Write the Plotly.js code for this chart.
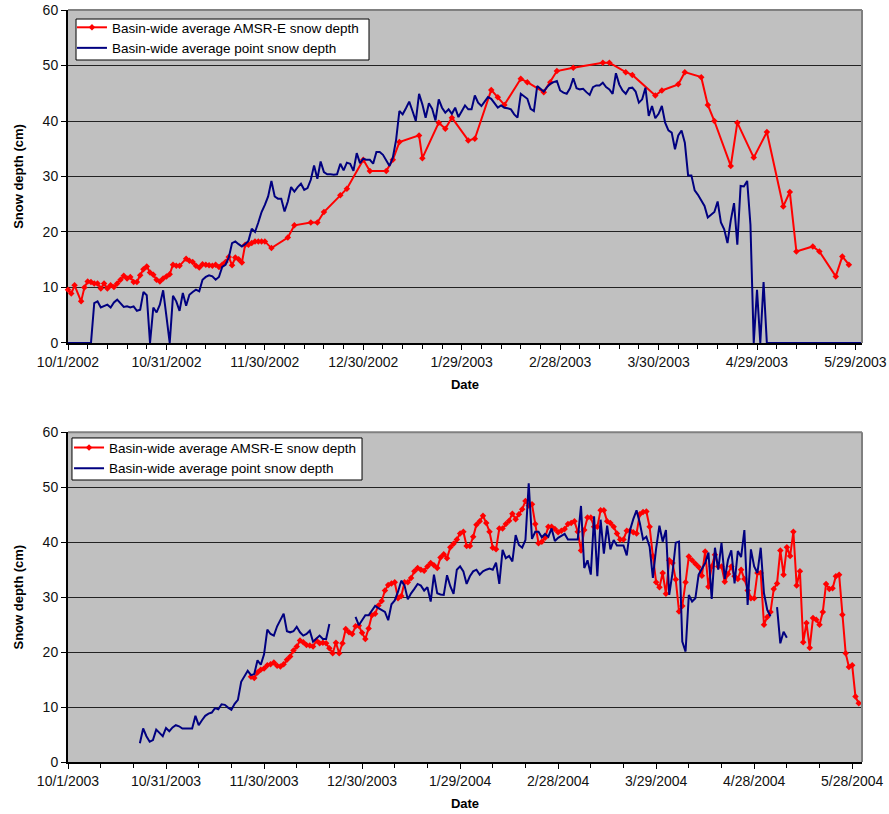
<!DOCTYPE html>
<html><head><meta charset="utf-8">
<script src="https://cdn.plot.ly/plotly-3.0.1.min.js"></script>
<style>html,body{margin:0;padding:0;background:#fff}#chart{width:889px;height:814px}</style>
</head><body><div id="chart"></div>
<script>
// ---------- data ----------
const start2002 = '2002-10-01';
const end2002 = '2003-05-31';
const start2003 = '2003-10-01';
const end2003 = '2004-05-31';

const seriesAmsr = 'Basin-wide average AMSR-E snow depth';
const seriesPoint = 'Basin-wide average point snow depth';

// 2002-2003 AMSR-E (day offset from start2002, depth cm)
const amsr2002Days = [0,1,2,4,5,6,7,8,9,10,11,12,13,14,15,16,17,18,19,20,21,22,23,24,25,26,27,28,29,30,31,32,33,34,36,37,38,39,40,41,42,43,44,45,46,47,48,49,50,51,52,53,54,55,56,57,58,59,60,62,67,69,74,76,78,83,85,90,92,97,99,101,107,108,113,115,117,122,124,129,131,133,138,140,145,147,149,154,163,165,170,172,179,181,186,188,193,195,197,202,204,209,213,218,220,222,227,229,234,236,238];
const amsr2002Depth = [9.6,8.9,10.4,7.5,10.0,11.1,11.0,10.7,10.7,9.8,10.7,9.8,10.4,10.1,10.7,11.4,12.1,11.6,11.9,11.0,11.0,12.2,13.3,13.8,12.7,12.3,11.4,11.1,11.6,12.0,12.4,14.1,13.9,13.9,15.2,14.8,14.6,13.9,13.6,14.2,14.1,14.0,13.9,14.1,13.7,14.1,14.6,15.5,14.0,15.4,15.1,14.5,17.7,17.7,18.0,18.3,18.3,18.3,18.3,17.1,19.0,21.2,21.7,21.7,23.6,26.6,27.8,33.0,31.0,31.0,33.0,36.2,37.4,33.3,39.7,38.6,40.6,36.5,36.8,45.6,44.3,42.9,47.6,47.0,45.2,47.0,49.0,49.6,50.5,50.5,48.8,48.3,44.6,45.5,46.6,48.8,47.9,42.9,40.0,31.9,39.7,33.4,38.0,24.6,27.2,16.5,17.4,16.5,12.0,15.6,14.1];

// 2002-2003 point, daily from start2002
const point2002StartDay = 0;
const point2002Depth = [0,0,0,0,0,0,0,0,
7.2,7.5,6.4,6.7,6.9,6.4,7.3,7.8,7.2,6.5,6.6,6.4,6.6,
5.8,6.0,9.2,8.6,0,6.4,5.5,6.9,9.5,4.8,
0,8.5,7.5,5.8,9.0,6.7,8.7,9.2,9.6,9.3,
11.4,11.9,12.2,12.0,11.4,11.9,13.7,14.1,15.4,18.0,
18.3,17.8,17.4,17.8,18.4,20.6,20.0,21.7,23.6,24.9,
26.4,29.2,26.4,26.0,26.0,23.7,25.5,28.1,27.3,28.1,
28.7,27.6,27.9,29.4,32.0,29.6,32.7,30.8,30.4,30.4,
30.3,30.4,32.3,31.1,32.5,32.3,31.0,34.2,32.4,33.2,
33.0,33.0,32.3,34.4,34.4,33.9,32.8,31.9,33.4,36.6,
41.8,41.2,42.3,43.5,41.8,40.0,44.9,43.0,40.6,43.2,
42.2,40.1,43.9,42.4,41.5,42.1,41.3,42.4,40.7,41.8,
42.8,42.1,42.1,44.6,43.3,42.7,43.5,44.3,44.0,43.3,
42.4,42.8,42.4,42.3,42.1,41.2,40.6,44.9,44.4,44.0,
42.2,41.8,46.3,45.8,45.3,46.1,46.7,47.0,47.2,45.5,
45.1,44.9,45.9,47.7,45.9,45.7,45.8,45.2,44.7,46.1,
46.4,46.4,46.9,46.1,45.7,44.9,48.6,46.6,45.5,44.9,
45.9,46.0,45.3,43.3,43.9,46.0,40.9,42.7,40.5,41.3,
42.7,39.7,38.3,37.9,34.9,37.4,38.3,36.1,30.2,30.2,
27.5,26.7,25.7,24.7,22.6,23.1,23.6,25.5,21.7,20.5,
18.0,22.1,25.2,17.7,28.3,28.2,29.2,21.3,0,9.6,
0,11.0,0,0,0,0,0,0,0,0,
0,0,0,0,0,0,0,0,0,0,
0,0,0,0,0,0,0,0,0,0,0,0];

// 2003-2004 point, daily from start2003 + 22 (null = no data)
const point2003StartDay = 22;
const point2003Depth = [3.4,6.1,4.7,3.7,4.0,5.9,5.3,4.7,6.2,5.6,
6.3,6.7,6.5,6.1,6.1,6.1,6.1,8.4,6.7,7.6,
8.4,8.8,9.0,9.8,9.6,10.5,10.4,9.9,9.5,10.6,
11.3,14.6,15.6,16.6,15.8,16.0,18.5,17.7,19.6,24.1,
23.3,23.0,24.7,26.0,27.0,23.8,23.6,23.8,24.6,23.6,
23.0,23.3,23.9,21.9,22.4,23.0,22.4,22.4,25.1,null,
null,null,null,null,null,null,26.4,24.9,25.8,26.7,
26.7,27.5,28.4,28.0,27.7,27.3,25.8,28.7,29.4,31.0,
33.0,32.1,29.6,30.7,31.5,32.4,32.1,31.2,31.8,29.2,
34.1,30.7,30.5,30.4,34.0,32.0,30.6,35.0,35.6,34.7,
32.4,33.8,34.7,35.0,34.1,34.7,35.0,35.2,35.0,36.3,
32.4,38.6,37.1,37.5,36.5,41.3,39.5,39.0,40.4,50.7,
40.6,41.9,41.9,40.9,41.5,41.0,42.5,40.2,40.8,41.2,
41.5,40.5,40.5,40.5,40.5,46.6,35.3,36.7,34.1,44.7,
33.8,44.1,37.9,43.0,38.7,40.4,39.4,39.4,39.4,37.6,
42.2,44.2,45.8,43.5,40.5,41.0,39.2,33.5,38.9,43.0,
40.1,42.2,30.4,34.4,39.9,40.1,21.9,20.1,30.4,29.2,
29.8,34.1,35.1,36.2,38.1,29.7,39.0,35.0,39.9,33.3,
36.8,38.5,32.5,38.4,37.3,42.2,28.6,38.7,35.6,34.4,
39.0,30.7,27.7,26.5,null,28.2,21.6,23.7,22.6];

// 2003-2004 AMSR-E, daily from start2003 + 56
const amsr2003StartDay = 56;
const amsr2003Depth = [15.5,15.3,16.3,16.8,17.0,17.6,17.8,18.1,17.5,17.4,
17.8,18.6,19.2,20.3,21.0,22.1,21.8,21.3,21.2,21.0,
22.1,21.6,21.7,21.6,20.7,19.8,21.7,19.8,21.6,24.2,
23.6,23.3,24.7,24.8,23.5,22.4,24.3,26.7,27.0,28.5,
29.3,31.2,32.2,32.5,32.7,29.8,30.2,32.7,32.7,33.5,
34.7,35.3,35.0,34.8,35.6,36.2,35.8,35.3,37.2,37.8,
37.1,39.1,39.7,40.5,41.6,41.9,39.3,39.3,41.0,43.2,
43.8,44.8,43.5,41.9,39.0,38.7,42.5,42.5,43.3,43.9,
45.2,44.2,45.1,46.0,47.5,46.7,46.9,43.3,39.8,40.1,
40.8,42.8,42.8,42.4,41.8,42.1,42.4,43.3,43.5,43.8,
41.9,38.5,42.2,44.5,44.5,42.8,42.8,45.8,45.8,43.8,
43.5,42.8,41.6,40.5,40.5,42.1,42.1,41.8,41.6,45.1,
45.5,45.6,42.8,37.5,32.7,31.8,34.4,30.6,36.7,36.2,
33.2,27.4,28.4,32.7,37.4,36.7,36.1,35.5,33.9,38.3,
31.9,35.6,37.7,35.6,35.6,32.8,34.2,35.6,33.8,33.3,
35.0,33.3,31.2,29.8,29.8,34.4,34.4,25.0,26.4,27.3,
31.5,32.5,38.5,34.1,39.1,37.5,41.9,32.1,34.7,21.8,
25.3,20.8,26.2,25.9,25.0,27.3,32.4,31.5,31.6,33.8,
34.1,26.8,19.8,17.3,17.6,11.9,10.7];

// tick labels
const tickDates2002 = ['2002-10-01','2002-10-31','2002-11-30','2002-12-30','2003-01-29','2003-02-28','2003-03-30','2003-04-29','2003-05-29'];
const tickLabels2002 = ['10/1/2002','10/31/2002','11/30/2002','12/30/2002','1/29/2003','2/28/2003','3/30/2003','4/29/2003','5/29/2003'];
const tickDates2003 = ['2003-10-01','2003-10-31','2003-11-30','2003-12-30','2004-01-29','2004-02-28','2004-03-29','2004-04-28','2004-05-28'];
const tickLabels2003 = ['10/1/2003','10/31/2003','11/30/2003','12/30/2003','1/29/2004','2/28/2004','3/29/2004','4/28/2004','5/28/2004'];
const yTicks = [0,10,20,30,40,50,60];

// ---------- helpers ----------
function toDate(start, d) {
  const t = new Date(start + 'T00:00:00Z');
  t.setUTCDate(t.getUTCDate() + d);
  return t.toISOString().slice(0, 10);
}
function dailyDates(start, first, n) {
  const out = [];
  for (let i = 0; i < n; i++) out.push(toDate(start, first + i));
  return out;
}

const RED = '#FF0000', NAVY = '#000080';
const FONT = '"Liberation Sans", Arial, sans-serif';

const traces = [
  {x: amsr2002Days.map(d => toDate(start2002, d)), y: amsr2002Depth, xaxis:'x', yaxis:'y',
   type:'scatter', mode:'lines+markers', name: seriesAmsr, legend:'legend',
   line:{color:RED, width:2}, marker:{symbol:'diamond', size:5, color:RED}, cliponaxis:false},
  {x: dailyDates(start2002, point2002StartDay, point2002Depth.length), y: point2002Depth, xaxis:'x', yaxis:'y',
   type:'scatter', mode:'lines', name: seriesPoint, legend:'legend',
   line:{color:NAVY, width:2}},
  {x: dailyDates(start2003, amsr2003StartDay, amsr2003Depth.length), y: amsr2003Depth, xaxis:'x2', yaxis:'y2',
   type:'scatter', mode:'lines+markers', name: seriesAmsr, legend:'legend2',
   line:{color:RED, width:2}, marker:{symbol:'diamond', size:5, color:RED}, cliponaxis:false},
  {x: dailyDates(start2003, point2003StartDay, point2003Depth.length), y: point2003Depth, xaxis:'x2', yaxis:'y2',
   type:'scatter', mode:'lines', name: seriesPoint, legend:'legend2', connectgaps:false,
   line:{color:NAVY, width:2}}
];

function xAxis(anchor, range, tickvals, ticktext, minorStep, minorStart) {
  return {
    type:'date', anchor: anchor, domain:[0,1], range: range,
    tickmode:'array', tickvals: tickvals, ticktext: ticktext, tickangle:0,
    ticks:'outside', ticklen:5, tickwidth:1, tickcolor:'#000',
    minor:{dtick: minorStep*86400000, tick0: minorStart, ticks:'outside', ticklen:4, tickcolor:'#000', showgrid:false},
    showline:true, linecolor:'#000', linewidth:2, showgrid:false, zeroline:false,
    layer:'below traces',
    tickfont:{size:14, family:FONT, color:'#111'},
    title:{text:'<b>Date</b>', font:{size:13, family:FONT}, standoff:11}
  };
}
function yAxis(anchor, domain) {
  return {
    anchor: anchor, domain: domain, range:[0,60], tickmode:'array', tickvals: yTicks,
    ticks:'outside', ticklen:5, tickcolor:'#000',
    showline:true, linecolor:'#000', linewidth:2,
    showgrid:true, gridcolor:'#222', gridwidth:1, zeroline:false,
    layer:'below traces',
    tickfont:{size:14, family:FONT, color:'#111'},
    title:{text:'<b>Snow depth (cm)</b>', font:{size:13, family:FONT}, standoff:16}
  };
}
function border(xr, yr) {
  return [
    {type:'line', xref: xr + ' domain', yref: yr + ' domain', x0:0, x1:1, y0:1, y1:1, line:{color:'#808080', width:2}},
    {type:'line', xref: xr + ' domain', yref: yr + ' domain', x0:1, x1:1, y0:0, y1:1, line:{color:'#808080', width:2}}
  ];
}
// white framed box behind each legend (paper coordinates)
function legendBox(x0, x1, y0, y1) {
  return {type:'rect', xref:'paper', yref:'paper', x0:x0, x1:x1, y0:y0, y1:y1,
    fillcolor:'#fff', line:{color:'#000', width:1}, layer:'above'};
}

const legendStyle = {xanchor:'left', yanchor:'top', bgcolor:'rgba(0,0,0,0)', borderwidth:0,
  font:{size:13.5, family:FONT, color:'#000'}, itemwidth:30, tracegroupgap:0};

const layout = {
  width:889, height:814,
  margin:{l:68, r:27, t:10, b:52},
  paper_bgcolor:'#fff', plot_bgcolor:'#C0C0C0',
  font:{family:FONT, size:14, color:'#000'},
  showlegend:true,
  xaxis: xAxis('y', [start2002, end2002], tickDates2002, tickLabels2002, 6, start2002),
  yaxis: yAxis('x', [0.5572, 1]),
  xaxis2: xAxis('y2', [start2003, end2003], tickDates2003, tickLabels2003, 10, start2003),
  yaxis2: yAxis('x2', [0, 0.4384]),
  legend: Object.assign({x:0.005, y:0.9973}, legendStyle),
  legend2: Object.assign({x:0.0013, y:0.4384}, legendStyle),
  shapes: border('x','y').concat(border('x2','y2')).concat([
    legendBox(0.0101, 0.3791, 0.9335, 0.988),
    legendBox(0.005, 0.3703, 0.375, 0.4309)
  ])
};

Plotly.newPlot('chart', traces, layout, {displayModeBar:false, staticPlot:true});
</script>
</body></html>
